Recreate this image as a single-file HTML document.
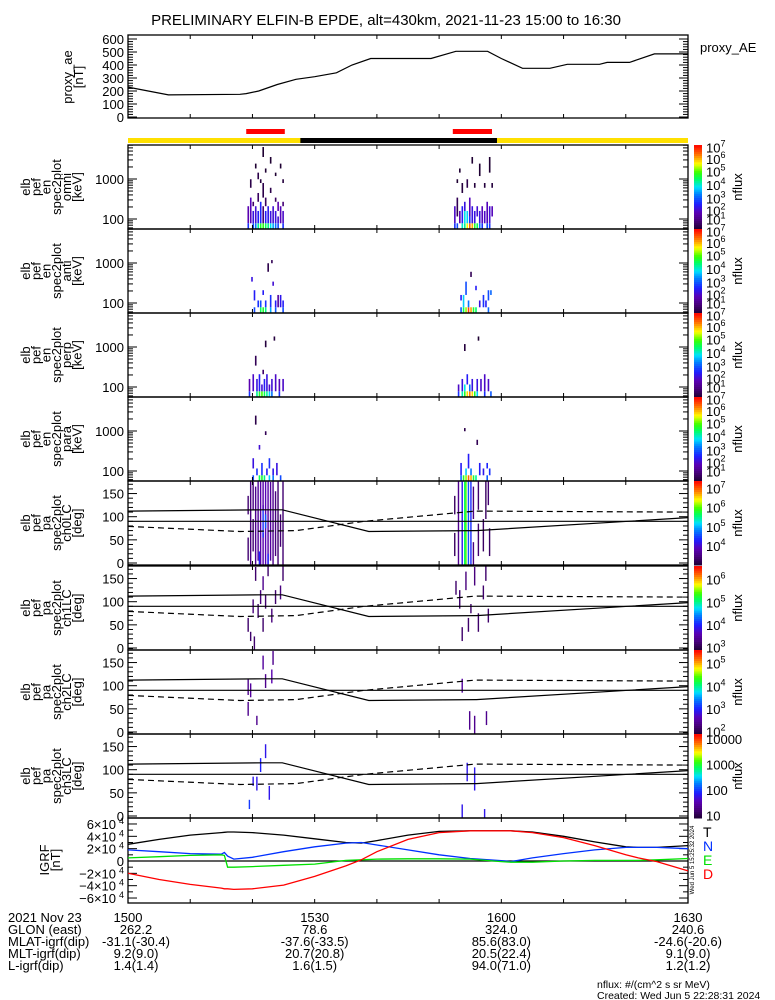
<!DOCTYPE html>
<html><head><meta charset="utf-8">
<style>
html,body{margin:0;padding:0;background:#fff;}
svg{display:block;font-family:"Liberation Sans",sans-serif;}
</style></head>
<body>
<svg id="chart" width="775" height="1000" viewBox="0 0 775 1000" xmlns="http://www.w3.org/2000/svg">
<rect x="0" y="0" width="775" height="1000" fill="#fff"/>
<text x="386" y="25" font-size="15" text-anchor="middle">PRELIMINARY ELFIN-B EPDE, alt=430km, 2021-11-23 15:00 to 16:30</text>
<g id="g"></g>
</svg>
<script>
// ---------- data ----------
const aeMin = [0,6.5,18,19,21,24,27,30,33.5,36,39,45,48.7,52.7,57.8,60,63.4,67.8,70.6,75.8,77,80.6,84.6,90];
const aeVal = [230,170,175,180,200,250,290,310,340,400,450,450,450,505,505,450,375,375,405,405,420,420,485,485];
const aeTicks = [0,100,200,300,400,500,600];

const redBars = [[19,25.2],[52.2,58.5]];
const nightBar = [27.7,59.3];

const energyCh = [63,97,138,183,238,305,385,520,700,900,1080,1300,1600,2100,2800,4500];
const energyTicks = [100,1000];
const paTicks = [0,50,100,150];

const omniCells = [[19.2,1,3,2.2],[19.2,0,0,3],[19.6,1,5,2.3],[19.6,8,9,1.2],[20.0,0,0,3.2],[20.0,1,2,2.6],[20.0,4,4,1.5],[20.4,0,0,3.5],[20.4,1,3,2.5],[20.4,13,13,1],[20.8,0,0,4.5],[20.8,1,2,2.8],[20.8,5,6,1.4],[20.8,10,11,1.2],[21.2,0,0,5],[21.2,1,4,2.9],[21.2,9,9,1.1],[21.6,0,0,5.1],[21.6,1,3,1.6],[21.6,6,8,1.2],[21.6,15,15,1],[22.0,0,0,4.8],[22.0,1,2,2.8],[22.0,4,5,1.4],[22.0,12,12,1],[22.4,0,0,4.6],[22.4,1,3,2.7],[22.8,0,0,4.2],[22.8,1,2,2.6],[22.8,7,7,1.2],[22.8,14,14,1],[23.2,0,0,3.8],[23.2,1,3,2.5],[23.6,0,0,3.5],[23.6,1,2,2.6],[23.6,5,5,1.4],[23.6,11,11,1],[24.0,0,0,3.2],[24.0,1,1,2.5],[24.0,3,4,2.2],[24.4,1,3,2.3],[24.4,13,13,1],[24.8,0,0,3],[24.8,1,2,2.4],[24.8,4,4,1.6],[24.8,9,9,1.1],
[52.4,0,0,3],[52.4,1,3,2.4],[52.8,0,0,3.2],[52.8,2,5,1.3],[52.8,9,9,1],[53.2,1,2,2.2],[53.2,12,12,1],[53.6,0,0,4.3],[53.6,1,3,2.8],[53.6,7,8,1.1],[54.0,0,0,4.5],[54.0,1,2,4.2],[54.0,3,4,2.6],[54.4,0,0,5.8],[54.4,1,2,4],[54.4,8,9,1.2],[54.8,0,0,6.6],[54.8,1,1,3],[54.8,2,5,2.3],[55.2,0,0,6.2],[55.2,1,3,2.6],[55.2,14,14,1],[55.6,0,0,5],[55.6,1,2,2.6],[55.6,8,8,1.1],[56.0,0,0,4.8],[56.0,2,3,2.5],[56.4,0,0,3.5],[56.4,1,2,2.6],[56.4,11,13,1],[56.8,0,0,3],[56.8,1,3,2.3],[57.2,1,2,2.4],[57.2,8,8,1.1],[57.6,0,0,3.2],[57.6,1,4,2.3],[58.0,0,0,3],[58.0,1,3,2.5],[58.0,12,14,1],[58.4,2,3,2.3],[58.4,8,8,1.1]];
const antiCells = [[20.2,0,0,3.2],[20.2,2,3,2.8],[20.8,1,1,3],[21.2,0,0,4.8],[21.2,1,1,3.2],[21.6,0,0,5],[21.6,3,3,2.8],[22.0,0,0,4.6],[22.0,1,1,3],[22.4,8,9,1.2],[22.8,0,0,3.8],[22.8,1,2,3],[23.2,5,5,2.5],[23.6,0,0,3.3],[23.6,1,1,2.8],[24.0,1,2,2],[24.4,1,2,2.7],[24.8,0,0,3.2],[24.8,1,1,2.8],[19.8,6,6,2.6],[23.0,10,10,1.3],
[53.4,0,0,3.3],[53.4,2,2,2.8],[53.8,0,0,4.8],[53.8,1,2,4],[54.2,0,0,5.5],[54.2,3,5,3.2],[54.6,0,0,6.8],[54.6,1,1,3.5],[55.0,0,0,6.3],[55.4,0,0,5],[55.8,0,0,4.7],[55.8,4,4,2.8],[56.4,1,1,2.6],[57.0,1,2,3],[57.4,1,1,2.8],[57.8,0,0,3.4],[57.8,2,3,3.2],[58.2,3,3,3.4],[55.0,7,7,1.3]];
const perpCells = [[19.4,0,0,3],[19.4,1,2,2.2],[20.0,1,3,2.4],[20.6,0,0,4.5],[20.6,1,2,2.6],[21.0,0,0,5],[21.0,1,3,2.8],[21.4,0,0,5.2],[21.4,1,1,2.5],[21.8,0,0,4.8],[21.8,1,2,2.8],[22.2,0,0,4.5],[22.2,1,3,2.6],[22.6,0,0,4],[22.6,1,1,2.4],[23.0,0,0,3.5],[23.0,1,2,2.5],[23.6,1,3,2.4],[24.2,0,0,3],[24.2,1,2,2.3],[24.8,1,2,2.4],[20.4,6,7,1.3],[22.0,10,11,1.1],[23.4,12,12,1.1],[21.6,4,4,1.5],
[53.0,0,0,3],[53.0,1,1,2.4],[53.6,0,0,4.4],[53.6,1,2,2.6],[54.0,0,0,5],[54.0,1,1,4.2],[54.4,0,0,6],[54.4,2,3,2.8],[54.8,0,0,6.5],[54.8,1,1,3.5],[55.2,0,0,6],[55.2,1,2,2.6],[55.6,0,0,5],[56.0,0,0,4],[56.0,1,2,2.6],[56.6,1,2,2.4],[57.2,0,0,3],[57.2,1,3,2.4],[57.8,1,2,2.4],[58.2,0,0,3.3],[54.0,9,10,1.1],[56.2,12,12,1]];
const paraCells = [[20.0,0,0,3.2],[20.0,2,3,2.6],[20.6,1,1,3],[21.0,0,0,4.8],[21.4,0,0,5],[21.4,1,2,3],[21.8,0,0,4.6],[22.2,1,1,2.8],[22.6,0,0,4],[22.6,2,3,3],[23.2,0,0,3.5],[23.2,1,1,2.7],[23.8,1,2,2.6],[24.4,0,0,3.2],[21.0,6,6,2.5],[20.4,12,13,1.2],[22.0,9,9,1.3],
[53.4,0,0,3.5],[53.4,1,2,2.8],[53.8,0,0,5],[54.2,0,0,5.5],[54.2,1,1,4],[54.6,0,0,6.6],[54.6,2,4,2.8],[55.0,0,0,6.2],[55.0,1,1,3.5],[55.4,0,0,5],[55.8,0,0,4.5],[56.4,1,2,2.8],[57.0,1,1,2.7],[57.6,0,0,3.3],[57.6,2,2,2.9],[58.0,1,1,3],[54.0,10,10,1.2],[56.0,7,7,1.3]];

const pa0Cells = [[19.2,10,50,3.4],[19.2,110,140,3.4],[19.6,0,180,3.5],[20.0,30,90,3.4],[20.0,120,170,3.5],[20.4,0,160,3.6],[20.8,10,180,3.7],[21.2,0,180,3.8],[21.6,0,60,3.8],[21.6,60,120,4.4],[21.6,120,180,3.8],[22.0,0,180,3.9],[22.0,80,100,4.6],[22.4,0,180,3.8],[22.8,10,170,3.7],[23.2,0,180,3.6],[23.6,20,150,3.5],[24.0,0,180,3.4],[24.4,40,100,3.4],[24.8,0,180,3.4],[21.0,0,20,4.3],[22.4,0,15,4.3],
[52.4,20,60,3.3],[52.4,110,140,3.3],[53.0,0,180,3.6],[53.6,0,180,4.2],[54.0,0,180,5.6],[54.2,0,180,6.0],[54.6,0,180,4.6],[55.0,0,180,4.4],[55.4,100,160,3.5],[55.4,0,40,3.5],[56.2,20,80,3.4],[56.2,120,180,3.4],[57.0,30,90,3.3],[57.4,100,180,3.3],[58.0,20,70,3.3],[57.8,130,180,3.4]];
const pa1Cells = [[19.2,40,60,3.2],[19.6,20,30,3.2],[20.0,80,100,3.3],[20.4,150,170,3.2],[20.8,70,90,3.2],[21.2,100,120,3.3],[21.6,130,150,3.4],[21.6,40,60,3.2],[22.0,90,110,3.2],[22.4,160,180,3.2],[23.0,60,80,3.3],[23.6,100,120,3.2],[24.4,110,130,3.3],[24.8,150,180,3.2],[20.2,0,20,3.2],
[52.6,120,140,3.2],[53.2,90,120,3.2],[53.6,20,40,3.2],[54.2,130,160,3.3],[54.6,40,60,3.2],[55.0,80,90,3.2],[55.6,140,170,3.3],[56.2,40,70,3.2],[57.0,110,130,3.2],[57.4,150,180,3.2],[57.8,60,80,3.2]];
const pa2Cells = [[19.2,40,60,2.4],[19.2,85,110,2.4],[19.6,80,100,2.5],[20.6,20,30,2.4],[21.6,140,160,2.5],[22.0,100,120,2.4],[23.0,110,130,2.6],[23.2,150,170,2.4],[53.6,90,110,2.5],[54.8,10,40,2.4],[55.6,0,30,2.4],[57.5,20,40,2.4]];
const pa3Cells = [[19.4,20,30,2.0],[20.6,60,80,1.8],[21.2,100,120,1.9],[22.0,130,150,1.8],[22.6,40,60,1.8],[20.0,70,80,1.8],[53.6,0,20,1.8],[54.4,80,110,1.8],[55.6,60,100,1.8],[57.2,0,10,1.8]];

const lcMin = [0,22,24.8,38.7,55.8,56,90];
const lcDeg = [112,115,115,68,70,70,98];
const alcMin = [0,18,27,38,55.8,90];
const alcDeg = [79,68,70,90,112,110];

const igrfMin = [0,5,10,15,15.5,16,17,20,25,30,35,37.5,40,45,50,55,60,61.5,65,70,75,80,82,85,90];
const igrfT = [2.7,3.5,4.2,4.6,4.65,4.7,4.7,4.6,4.2,3.6,3.0,2.9,3.3,4.2,4.8,4.9,4.9,4.9,4.7,4.0,3.1,2.3,2.2,2.2,2.5];
const igrfN = [1.8,1.5,1.2,1.1,1.4,0.8,0.3,0.6,1.5,2.3,2.9,3.0,2.6,1.8,1.0,0.4,0.05,-0.1,0.5,1.2,1.8,2.2,2.2,2.2,2.0];
const igrfE = [0.5,0.7,0.9,1.0,0.9,-1.0,-1.0,-0.9,-0.7,-0.5,0.1,0.2,0.3,0.35,0.35,0.3,-0.1,-0.2,-0.2,0.0,0.1,0.1,0.1,0.2,0.4];
const igrfD = [-2.0,-3.0,-3.8,-4.4,-4.5,-4.5,-4.6,-4.5,-3.9,-2.5,-0.8,0.2,1.5,3.5,4.6,4.9,4.9,4.9,4.6,3.8,2.5,1.0,0.5,-0.1,-1.6];
const igrfTicks = [-6,-4,-2,0,2,4,6];

const timeLabels = ["1500","1530","1600","1630"];
const timeLabelMin = [0,30,60,90];
const glon = ["262.2","78.6","324.0","240.6"];
const mlat = ["-31.1(-30.4)","-37.6(-33.5)","85.6(83.0)","-24.6(-20.6)"];
const mlt = ["9.2(9.0)","20.7(20.8)","20.5(22.4)","9.1(9.0)"];
const lval = ["1.4(1.4)","1.6(1.5)","94.0(71.0)","1.2(1.2)"];

// ---------- helpers ----------
const NS="http://www.w3.org/2000/svg";
const G=document.getElementById('g');
const X0=128, X1=688;
function xs(m){return X0+(X1-X0)*m/90;}
function mk(tag,attrs,parent){const e=document.createElementNS(NS,tag);for(const k in attrs)e.setAttribute(k,attrs[k]);(parent||G).appendChild(e);return e;}
function txt(s,x,y,size,anchor,parent,fill){const t=mk('text',{x:x,y:y,'font-size':size,'text-anchor':anchor||'start',fill:fill||'#000'},parent);t.textContent=s;return t;}
const stops=[[0,[30,0,50]],[0.1,[70,0,120]],[0.2,[90,0,180]],[0.3,[30,30,255]],[0.42,[0,130,255]],[0.5,[0,225,255]],[0.6,[0,255,100]],[0.68,[60,255,0]],[0.78,[255,255,0]],[0.88,[255,128,0]],[1,[255,0,0]]];
function cmap(n){n=Math.max(0,Math.min(1,n));for(let i=1;i<stops.length;i++){if(n<=stops[i][0]){const a=stops[i-1],b=stops[i];const f=(n-a[0])/(b[0]-a[0]);const c=a[1].map((v,j)=>Math.round(v+(b[1][j]-v)*f));return 'rgb('+c.join(',')+')';}}return 'rgb(255,0,0)';}

function frame(top,bot,name){
  const r=mk('rect',{x:X0,y:top,width:X1-X0,height:bot-top,fill:'none',stroke:'#000','stroke-width':1.3});
  
  
  for(let m=10;m<90;m+=10){
    mk('line',{x1:xs(m),x2:xs(m),y1:bot,y2:bot-4,stroke:'#000'});
    mk('line',{x1:xs(m),x2:xs(m),y1:top,y2:top+4,stroke:'#000'});
  }
}
function vlabel(lines,cy,xStart,step,name){
  const g=mk('g',{});
  
  
  lines.forEach((s,i)=>{const x=xStart+i*step+5;const t=txt(s,x,cy,13,'middle',g);t.setAttribute('transform','rotate(-90 '+x+' '+cy+')');});
}
function ytick(y,len){mk('line',{x1:X0,x2:X0+len,y1:y,y2:y,stroke:'#000'});mk('line',{x1:X1,x2:X1-len,y1:y,y2:y,stroke:'#000'});}
// labels: [position(log value), exponent or null, plain text or null]
function colorbar(top,bot,lo,hi,labels,name){
  const g=mk('g',{});
  
  
  const n=40,h=(bot-top)/n;
  for(let i=0;i<n;i++){mk('rect',{x:694,y:bot-(i+1)*h,width:8,height:h+0.5,fill:cmap((i+0.5)/n)},g);}
  labels.forEach(l=>{const y=bot-(bot-top)*(l[0]-lo)/(hi-lo);
    if(l[2]){txt(l[2],706,y+5,13,'start',g);}else{const t=txt('10',706,y+5,13,'start',g);const s=mk('tspan',{dy:-6,'font-size':9},t);s.textContent=l[1];}});
  const cy=(top+bot)/2;const t=txt('nflux',742,cy,13,'middle',g);t.setAttribute('transform','rotate(-90 742 '+cy+')');
}

// ---------- AE panel ----------
(function(){
  const top=35,bot=118; frame(top,bot,'proxy-ae-panel');
  const ya=v=>117-v*0.13;
  for(let v=0;v<=600;v+=20){ytick(ya(v),v%100===0?9:5);}
  aeTicks.forEach(v=>txt(String(v),124,ya(v)+5,13,'end'));
  let d='';aeMin.forEach((m,i)=>{d+=(i?'L':'M')+xs(m).toFixed(1)+' '+ya(aeVal[i]).toFixed(1);});
  const p=mk('path',{d:d,fill:'none',stroke:'#000','stroke-width':1.2});
  
  
  vlabel(['proxy_ae','[nT]'],77,67,11,'proxy-ae-axis-title');
  const t=txt('proxy_AE',700,52,13,'start');
  
  
})();

// ---------- science zone / day-night bars ----------
redBars.forEach(b=>{const r=mk('rect',{x:xs(b[0]),y:129,width:xs(b[1])-xs(b[0]),height:5,fill:'#ff0000'});
  
  });
(function(){
  const a=mk('rect',{x:X0,y:138,width:X1-X0,height:5,fill:'#ffe000'});
  
  
  const b=mk('rect',{x:xs(nightBar[0]),y:138,width:xs(nightBar[1])-xs(nightBar[0]),height:5,fill:'#000'});
  
  
})();

// ---------- energy spectrogram panels ----------
const spTops=[145,229,313,397];
const spNames=['omni','anti','perp','para'];
const spData=[omniCells,antiCells,perpCells,paraCells];
const cbLabels=[[7.1,'7'],[6.25,'6'],[5.3,'5'],[4.3,'4'],[3.3,'3'],[2.4,'2'],[1.7,'1']];
function eY(top,e){return top+74-40*Math.log10(e/100);}
function chEdges(i){const lo=i===0?energyCh[0]*0.85:Math.sqrt(energyCh[i-1]*energyCh[i]);const hi=i===energyCh.length-1?energyCh[i]*1.4:Math.sqrt(energyCh[i]*energyCh[i+1]);return [lo,hi];}
spTops.forEach((top,pi)=>{
  const bot=top+84;
  const g=mk('g',{});
  
  
  spData[pi].forEach(c=>{const lo=chEdges(c[1])[0],hi=chEdges(c[2])[1];
    const y1=Math.min(bot,eY(top,lo)),y2=Math.max(top,eY(top,hi));
    mk('rect',{x:xs(c[0]),y:y2,width:1.6,height:y1-y2,fill:cmap((c[3]-1)/6.2)},g);});
  frame(top,bot,'spectrogram-'+spNames[pi]);
  [60,70,80,90,100,200,300,400,500,600,700,800,900,1000,2000,3000,4000,5000,6000,7000].forEach(e=>{const y=eY(top,e);if(y>top&&y<bot)ytick(y,(e===100||e===1000)?9:5);});
  energyTicks.forEach(e=>txt(String(e),124,eY(top,e)+5,13,'end'));
  vlabel(['elb','pef','en','spec2plot',spNames[pi],'[keV]'],top+42,25,10.3,'spectrogram-'+spNames[pi]+'-axis-title');
  colorbar(top,bot,1,7.3,cbLabels,'colorbar-'+spNames[pi]);
});

// ---------- pitch angle panels ----------
const paTops=[481,566,650,734];
const paNames=['ch0LC','ch1LC','ch2LC','ch3LC'];
const paData=[pa0Cells,pa1Cells,pa2Cells,pa3Cells];
const paRange=[[3,7.4],[2.9,6.6],[1.9,5.6],[0.9,4.2]];
const paCb=[[[7,'7'],[6,'6'],[5,'5'],[4,'4']],[[6,'6'],[5,'5'],[4,'4'],[3,'3']],[[5,'5'],[4,'4'],[3,'3'],[2,'2']],[[4,null,'10000'],[3,null,'1000'],[2,null,'100'],[1,null,'10']]];
function pY(top,d){return top+82-d*0.463;}
paTops.forEach((top,pi)=>{
  const bot=top+84;
  const g=mk('g',{});
  
  
  const rg=paRange[pi];
  paData[pi].forEach(c=>{const y1=pY(top,c[1]-5),y2=Math.max(top,pY(top,c[2]+5));
    mk('rect',{x:xs(c[0]),y:y2,width:1.4,height:Math.min(bot,y1)-y2,fill:cmap((c[3]-rg[0])/(rg[1]-rg[0]))},g);});
  frame(top,bot,'pitch-angle-'+paNames[pi]);
  for(let d=0;d<=180;d+=10){ytick(pY(top,d),d%50===0?9:5);}
  paTicks.forEach(d=>txt(String(d),124,pY(top,d)+5,13,'end'));
  const h=mk('line',{x1:X0,x2:X1,y1:pY(top,90),y2:pY(top,90),stroke:'#000','stroke-width':1.2});
  
  
  let d1='',d2='';
  lcMin.forEach((m,i)=>{d1+=(i?'L':'M')+xs(m).toFixed(1)+' '+pY(top,lcDeg[i]).toFixed(1);});
  alcMin.forEach((m,i)=>{d2+=(i?'L':'M')+xs(m).toFixed(1)+' '+pY(top,alcDeg[i]).toFixed(1);});
  const l1=mk('path',{d:d1,fill:'none',stroke:'#000','stroke-width':1.2});
  
  
  const l2=mk('path',{d:d2,fill:'none',stroke:'#000','stroke-width':1.2,'stroke-dasharray':'6,4'});
  
  
  vlabel(['elb','pef','pa','spec2plot',paNames[pi],'[deg]'],top+42,25,10.3,'pitch-angle-'+paNames[pi]+'-axis-title');
  colorbar(top,bot,rg[0],rg[1],paCb[pi],'colorbar-'+paNames[pi]);
});

// ---------- IGRF panel ----------
(function(){
  const top=818,bot=903; frame(top,bot,'igrf-panel');
  const yi=v=>861-v*6.17;
  for(let v=-6;v<=6;v+=1){ytick(yi(v),v%2===0?9:5);}
  igrfTicks.forEach(v=>{if(v===0){txt('0',124,yi(v)+5,13,'end');return;}txt((v<0?'\u2212':'')+Math.abs(v)+'\u00d710',116,yi(v)+5,13,'end');
    txt('4',124,yi(v),9,'end');});
  const z=mk('line',{x1:X0,x2:X1,y1:yi(0),y2:yi(0),stroke:'#000','stroke-width':1.2});
  
  
  const series=[[igrfT,'#000','T'],[igrfN,'#0030ff','N'],[igrfE,'#00e000','E'],[igrfD,'#ff0000','D']];
  series.forEach(s=>{let d='';igrfMin.forEach((m,i)=>{d+=(i?'L':'M')+xs(m).toFixed(1)+' '+yi(s[0][i]).toFixed(1);});
    const p=mk('path',{d:d,fill:'none',stroke:s[1],'stroke-width':1.3});
    
    });
  [['T','#000',837],['N','#0030ff',851],['E','#00e000',865],['D','#ff0000',879]].forEach(l=>{
    const t=txt(l[0],703,l[2],14,'start',null,l[1]);
    
    });
  const w=txt('Wed Jun  5 15:25:32 2024',694,860,6,'middle');w.setAttribute('transform','rotate(-90 694 860)');
  vlabel(['IGRF','[nT]'],860,44,11,'igrf-axis-title');
})();

// ---------- bottom annotation ----------
(function(){
  const g=mk('g',{});
  
  
  const rows=[['2021 Nov 23',timeLabels],['GLON (east)',glon],['MLAT-igrf(dip)',mlat],['MLT-igrf(dip)',mlt],['L-igrf(dip)',lval]];
  rows.forEach((r,i)=>{const y=922+i*12;txt(r[0],8,y,13,'start',g);
    r[1].forEach((v,j)=>txt(v,xs(timeLabelMin[j])+(j===0&&i>0?8:0),y,13,'middle',g));});
  txt('nflux: #/(cm^2 s sr MeV)',597,988,10.5,'start',g);
  txt('Created: Wed Jun  5 22:28:31 2024',597,999,10.5,'start',g);
})();
</script>
</body></html>
